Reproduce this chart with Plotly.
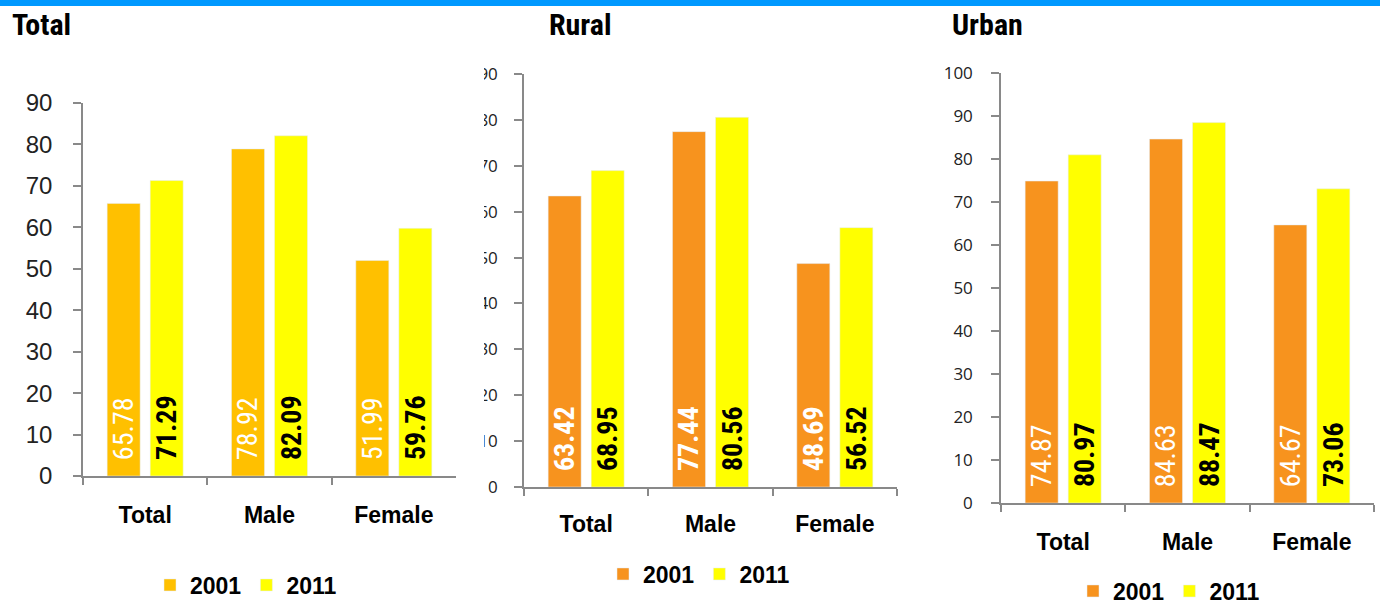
import plotly.graph_objects as go

categories = ["Total", "Male", "Female"]
years = ["2001", "2011"]

total_2001 = [65.78, 78.92, 51.99]
total_2011 = [71.29, 82.09, 59.76]
rural_2001 = [63.42, 77.44, 48.69]
rural_2011 = [68.95, 80.56, 56.52]
urban_2001 = [74.87, 84.63, 64.67]
urban_2011 = [80.97, 88.47, 73.06]

panel_titles = ["Total", "Rural", "Urban"]
y_ticks_total = [0, 10, 20, 30, 40, 50, 60, 70, 80, 90]
y_ticks_rural = [0, 10, 20, 30, 40, 50, 60, 70, 80, 90]
y_ticks_urban = [0, 10, 20, 30, 40, 50, 60, 70, 80, 90, 100]

GOLD = "#FFC000"
ORANGE = "#F7931E"
YELLOW = "#FFFF00"
NARROW = "Liberation Sans Narrow, Roboto Condensed, Liberation Sans, sans-serif"
W, H = 1380, 605

fig = go.Figure()

panels = [
    (total_2001, total_2011, GOLD, "x", "y", "legend", False),
    (rural_2001, rural_2011, ORANGE, "x2", "y2", "legend2", True),
    (urban_2001, urban_2011, ORANGE, "x3", "y3", "legend3", False),
]
for v01, v11, c01, xa, ya, lg, bold01 in panels:
    fig.add_trace(go.Bar(
        x=categories, y=v01, name=years[0], marker_color=c01, xaxis=xa, yaxis=ya,
        legend=lg, texttemplate="\u00a0\u00a0%{y:.2f}", textposition="inside",
        insidetextanchor="start", textangle=-90, constraintext="none",
        textfont=dict(family=NARROW, size=28, color="white",
                      weight="bold" if bold01 else "normal"),
        hoverinfo="skip"))
    fig.add_trace(go.Bar(
        x=categories, y=v11, name=years[1], marker_color=YELLOW, xaxis=xa, yaxis=ya,
        legend=lg, texttemplate="\u00a0\u00a0%{y:.2f}", textposition="inside",
        insidetextanchor="start", textangle=-90, constraintext="none",
        textfont=dict(family=NARROW, size=28, color="black", weight="bold"),
        hoverinfo="skip"))

def px_x(p):
    return p / W

def px_y(p):
    return 1 - p / H

axis_line = dict(showline=True, linecolor="#898989", linewidth=1.5,
                 ticks="outside", tickcolor="#898989", tickwidth=1.5,
                 showgrid=False, zeroline=False, fixedrange=True, automargin=False)

xcommon = dict(axis_line, tickson="boundaries", ticklen=7,
               tickfont=dict(family="Liberation Sans, Arial, sans-serif", size=23,
                             color="black", weight="bold"),
               range=[-0.5, 2.5])

fig.update_layout(
    width=W, height=H, margin=dict(l=0, r=0, t=0, b=0, autoexpand=False), autosize=False,
    paper_bgcolor="white", plot_bgcolor="white",
    bargap=0.308, bargroupgap=0.233, showlegend=True,
    xaxis=dict(xcommon, domain=[px_x(83), px_x(456)], anchor="y", ticklabelstandoff=18),
    yaxis=dict(axis_line, domain=[px_y(476), px_y(103)], anchor="x", range=[0, 90],
               tickvals=y_ticks_total, ticklen=8, ticklabelstandoff=16,
               tickfont=dict(family="Liberation Sans, Arial, sans-serif", size=24, color="#222222")),
    xaxis2=dict(xcommon, domain=[px_x(524), px_x(897)], anchor="y2", ticklabelstandoff=16),
    yaxis2=dict(axis_line, domain=[px_y(487), px_y(74)], anchor="x2", range=[0, 90],
                tickvals=y_ticks_rural, ticklen=8, ticklabelstandoff=13,
                tickfont=dict(family="Open Sans, sans-serif", size=17, color="#222222")),
    xaxis3=dict(xcommon, domain=[px_x(1001), px_x(1374)], anchor="y3", ticklabelstandoff=18),
    yaxis3=dict(axis_line, domain=[px_y(503), px_y(73)], anchor="x3", range=[0, 100],
                tickvals=y_ticks_urban, ticklen=8, ticklabelstandoff=15,
                tickfont=dict(family="Open Sans, sans-serif", size=17, color="#222222")),
)

legend_font = dict(family="Liberation Sans, Arial, sans-serif", size=23, color="black", weight="bold")
for name, lx, ly in [("legend", 150, 585), ("legend2", 603, 574), ("legend3", 1073, 591)]:
    fig.update_layout({name: dict(orientation="h", x=px_x(lx), y=px_y(ly),
                                  xref="container", yref="container",
                                  xanchor="left", yanchor="middle", font=legend_font,
                                  bgcolor="rgba(0,0,0,0)", traceorder="normal",
                                  itemclick=False, itemdoubleclick=False)})

title_font = dict(family=NARROW, size=30, color="black", weight="bold")
for t, tx in zip(panel_titles, [10, 547, 950]):
    fig.add_annotation(text=t, x=px_x(tx), y=px_y(25), xref="paper", yref="paper",
                       xanchor="left", yanchor="middle", showarrow=False, font=title_font)

# top banner strip
fig.add_shape(type="rect", xref="paper", yref="paper", x0=0, x1=1, y0=px_y(6), y1=1,
              fillcolor="#0099FF", line_width=0, layer="above")
# left edge of the rural value axis is cut off in the source
fig.add_shape(type="rect", xref="paper", yref="paper", x0=px_x(462), x1=px_x(484),
              y0=px_y(500), y1=px_y(60), fillcolor="white", line_width=0, layer="above")

post = (
    "var gd=document.getElementById('{plot_id}');"
    "var de=document.documentElement,b=document.body;"
    "de.style.margin='0';de.style.padding='0';de.style.overflow='hidden';"
    "b.style.margin='0';b.style.padding='0';b.style.overflow='hidden';"
    "gd.style.position='absolute';gd.style.top='0px';gd.style.left='0px';"
)
fig.write_html("out.html", config={"responsive": False, "displayModeBar": False},
               post_script=post)
